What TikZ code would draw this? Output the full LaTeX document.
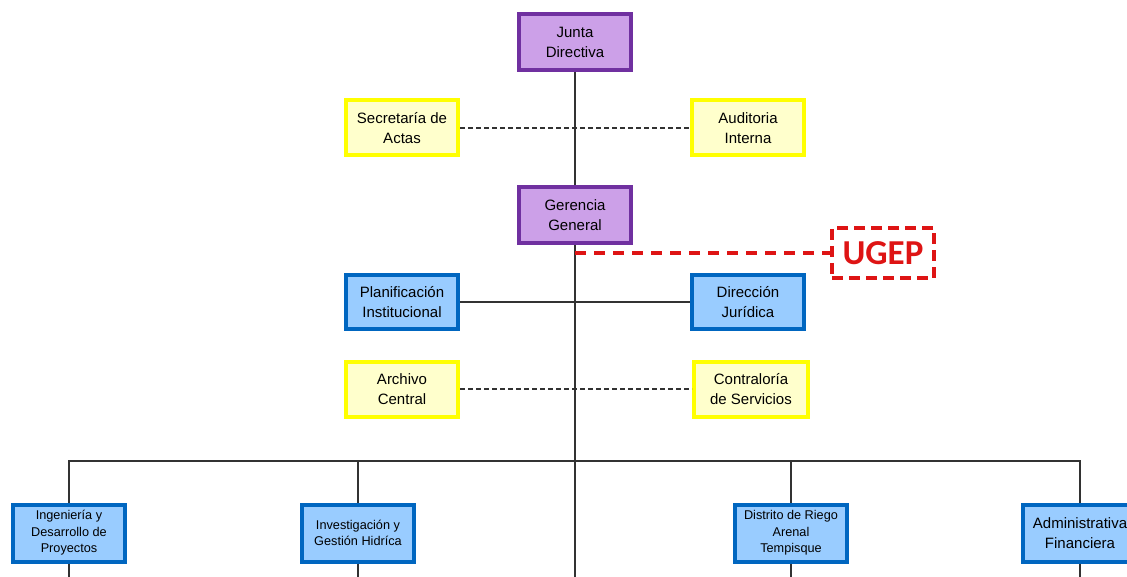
\documentclass[tikz,border=0pt]{standalone}
\usepackage{fontspec}
\setmainfont{Liberation Sans}
\newfontfamily\ugepfont{Carlito}
\definecolor{purpfill}{RGB}{204,160,232}
\definecolor{purpline}{RGB}{112,48,160}
\definecolor{yelfill}{RGB}{255,255,204}
\definecolor{yelline}{RGB}{255,255,0}
\definecolor{bluefill}{RGB}{153,204,255}
\definecolor{blueline}{RGB}{0,102,192}
\definecolor{ugepred}{RGB}{222,20,20}
\definecolor{linkgray}{RGB}{50,50,50}

\begin{document}
\begin{tikzpicture}[x=1pt, y=-1pt, font=\fontsize{15}{20}\selectfont]

    %styles
    \tikzstyle{boss}=[rectangle, draw=purpline, fill=purpfill, line width=4pt, minimum width=112, minimum height=56, align=center, inner sep=1pt]
    \tikzstyle{staff}=[rectangle, draw=yelline, fill=yelfill, line width=4pt, minimum width=112, minimum height=55, align=center, inner sep=1pt]
    \tikzstyle{unit}=[rectangle, draw=blueline, fill=bluefill, line width=4pt, minimum width=112, minimum height=54, align=center, inner sep=1pt]
    \tikzstyle{dept}=[unit, minimum height=57, font=\fontsize{12.7}{16.5}\selectfont]
    \tikzstyle{link}=[draw=linkgray, line width=1.1pt]
    \tikzstyle{aux}=[draw=linkgray, line width=1.1pt, dashed, dash pattern=on 5pt off 3pt]

    \useasboundingbox (0,0) rectangle (1127,577);

    % nodes
    \node[boss] (junta) at (575,42) {Junta\\Directiva};
    \node[staff] (secret) at (402,128) {Secretaría de\\Actas};
    \node[staff] (audit) at (748,128) {Auditoria\\Interna};
    \node[boss] (gerencia) at (575,215) {Gerencia\\General};
    \node[draw=ugepred, line width=3.5pt, dash pattern=on 11pt off 6pt, minimum width=102, minimum height=50, text=ugepred, font=\ugepfont\bfseries\fontsize{35}{36}\selectfont] (ugep) at (883,253) {UGEP};
    \node[unit] (planif) at (402,302) {Planificación\\Institucional};
    \node[unit] (juridica) at (748,302) {Dirección\\Jurídica};
    \node[staff] (archivo) at (402,389) {Archivo\\Central};
    \node[staff, minimum width=114] (contral) at (751,389) {Contraloría\\de Servicios};
    \node[dept] (ingen) at (69,533) {Ingeniería y\\Desarrollo de\\Proyectos};
    \node[dept] (invest) at (358,533) {Investigación y\\Gestión Hidríca};
    \node[dept] (distrito) at (791,533) {Distrito de Riego\\Arenal\\Tempisque};
    \node[dept, font=\fontsize{15}{20}\selectfont, minimum width=114] (admin) at (1080,533) {Administrativa\\Financiera};

    \coordinate (bus) at (575,461);
    \coordinate (trunk) at (575,577);
    \coordinate (ugepjoin) at (575,253);

    % arrows
    \draw[link] (junta) -- (gerencia);
    \draw[link] (gerencia) -- (trunk);
    \draw[aux] (secret) -- (audit);
    \draw[link] (planif) -- (juridica);
    \draw[aux] (archivo) -- (contral);
    \draw[ugepred, line width=3.5pt, dash pattern=on 11pt off 8pt] (ugepjoin) -- (ugep);
    \draw[link] (ingen.north) -- (ingen.north |- bus) -- (admin.north |- bus) -- (admin.north);
    \draw[link] (invest.north) -- (invest.north |- bus);
    \draw[link] (distrito.north) -- (distrito.north |- bus);
    \draw[link] (ingen.south) -- (ingen.south |- trunk);
    \draw[link] (invest.south) -- (invest.south |- trunk);
    \draw[link] (distrito.south) -- (distrito.south |- trunk);
    \draw[link] (admin.south) -- (admin.south |- trunk);
\end{tikzpicture}
\end{document}
